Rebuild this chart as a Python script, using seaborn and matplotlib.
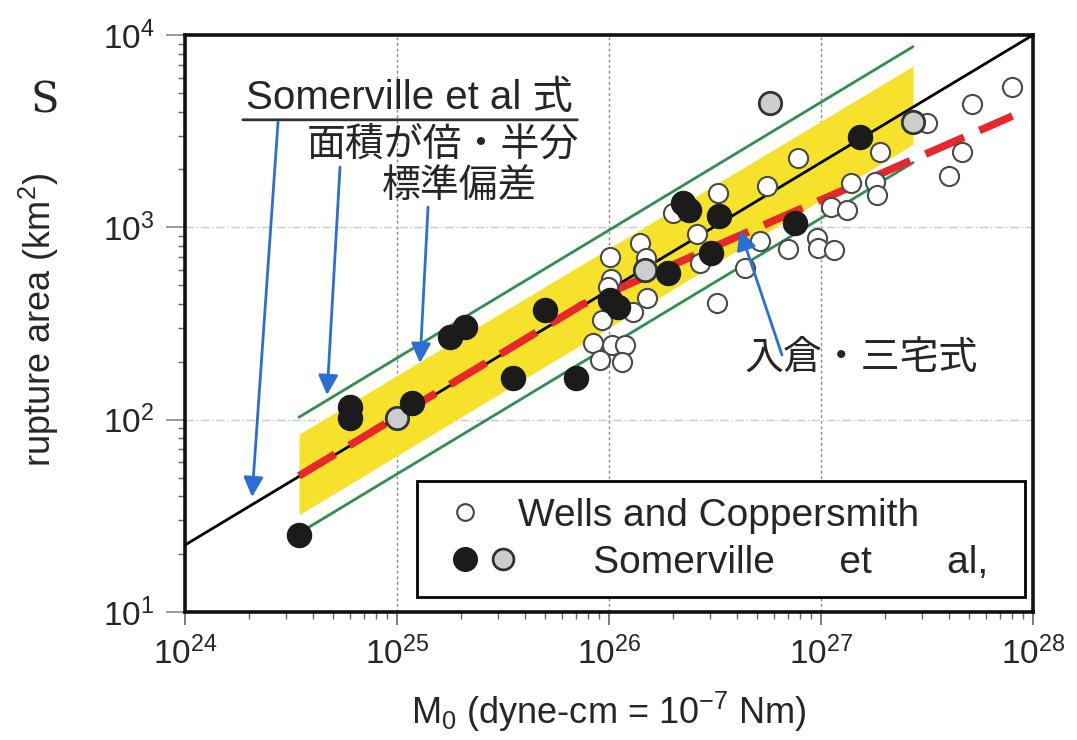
import matplotlib
matplotlib.use("Agg")
import matplotlib.pyplot as plt
import seaborn as sns
from matplotlib.lines import Line2D
from matplotlib.legend_handler import HandlerTuple

# --- data (M0 in dyne-cm, S in km^2) ---
# Somerville et al. relation (black line) end points
som_m0 = [1e24, 1e28]
som_s = [22.3, 10000]
# "area doubled / halved" lines (green)
band_m0 = [3.45e24, 2.72e27]
double_s = [103, 8700]
half_s = [25.7, 2170]
# standard deviation band (yellow)
sd_upper = [84, 6900]
sd_lower = [32, 2700]
# Irikura-Miyake relation (red dashed): start, knee, end
iri_m0 = [3.45e24, 7.5e25, 8.0e27]
iri_s = [51, 397, 3790]

# Wells and Coppersmith (open circles)
wc_m0 = [7.96e27, 5.15e27, 3.16e27, 1.90e27, 4.62e27, 4.02e27, 1.39e27, 1.80e27,
         1.84e27, 1.11e27, 1.33e27, 7.80e26, 5.56e26, 3.27e26, 2.00e26, 2.60e26,
         5.15e26, 6.98e26, 9.57e26, 9.68e26, 1.15e27, 4.39e26, 3.23e26, 1.40e26,
         1.01e26, 1.50e26, 2.69e26, 1.02e26, 9.9e25, 1.51e26, 1.30e26, 9.27e25,
         8.41e25, 1.03e26, 1.19e26, 9.08e25, 1.15e26]
wc_s = [5370, 4385, 3493, 2466, 2466, 1849, 1702, 1722,
        1472, 1277, 1230, 2296, 1641, 1510, 1189, 925,
        849, 773, 881, 781, 764, 615, 404, 829,
        702, 693, 653, 540, 490, 430, 363, 330,
        250, 245, 245, 204, 200]

# Somerville et al. data (filled black)
sb_m0 = [3.45e24, 6.0e24, 6.0e24, 1.18e25, 1.78e25, 2.09e25, 4.99e25, 3.52e25,
         6.98e25, 1.01e26, 1.10e26, 1.90e26, 2.23e26, 2.38e26, 3.30e26, 3.03e26,
         7.53e26, 1.53e27]
sb_s = [25.1, 116, 102, 122, 269, 303, 372, 165,
        165, 419, 385, 580, 1340, 1230, 1146, 736,
        1054, 2951]

# Somerville et al. data (filled gray)
sg_m0 = [1.0e25, 5.74e26, 2.72e27, 1.48e26]
sg_s = [102, 4436, 3532, 600]

# --- style ---
sns.set_style("ticks")
plt.rcParams["font.family"] = ["Liberation Sans", "Noto Sans CJK JP", "DejaVu Sans"]
plt.rcParams["mathtext.fontset"] = "custom"
plt.rcParams["mathtext.rm"] = "Liberation Sans"
plt.rcParams["mathtext.it"] = "Liberation Sans:italic"
plt.rcParams["mathtext.bf"] = "Liberation Sans:bold"

yellow = "#f6e22b"
green = "#2f8f4e"
red = "#e8262c"
blue = "#2b6fd4"

fig = plt.figure(figsize=(10.77, 7.40), dpi=100)
ax = fig.add_axes([0.1718, 0.1730, 0.7873, 0.7797])
ax.set_xscale("log")
ax.set_yscale("log")
ax.set_xlim(1e24, 1e28)
ax.set_ylim(1e1, 1e4)

ax.fill_between(band_m0, sd_lower, sd_upper, color=yellow, lw=0, zorder=1)
sns.lineplot(x=band_m0, y=double_s, color=green, lw=2, ax=ax, zorder=2)
sns.lineplot(x=band_m0, y=half_s, color=green, lw=2, ax=ax, zorder=2)
sns.lineplot(x=som_m0, y=som_s, color="black", lw=2, ax=ax, zorder=3)
sns.lineplot(x=iri_m0, y=iri_s, color=red, lw=5.5, ax=ax, zorder=4)
ax.lines[-1].set_dashes((5.5, 2.2))

sns.scatterplot(x=wc_m0, y=wc_s, s=190, color="white", edgecolor="#4a4a4a",
                linewidth=1.5, ax=ax, zorder=5, legend=False)
sns.scatterplot(x=sg_m0, y=sg_s, s=260, color="#cdcdcd", edgecolor="#333333",
                linewidth=2, ax=ax, zorder=6, legend=False)
sns.scatterplot(x=sb_m0, y=sb_s, s=300, color="#1b1b1b", edgecolor="#1b1b1b",
                linewidth=1, ax=ax, zorder=7, legend=False)

# grid
ax.xaxis.grid(True, which="major", color="#888888", ls=(0, (2, 2)), lw=1, zorder=0)
ax.yaxis.grid(True, which="major", color="#c8c8d0", ls=(0, (6, 2, 1, 2)), lw=1, zorder=0)

# frame and ticks
for sp in ax.spines.values():
    sp.set_linewidth(2.6)
    sp.set_color("#111111")
ax.tick_params(axis="x", which="major", length=9, width=1.2, color="#666666",
               labelsize=24, pad=9)
ax.tick_params(axis="y", which="major", length=14, width=1.2, color="#888888",
               labelsize=24, pad=8)
ax.tick_params(which="minor", length=5, width=1, color="#666666")

ax.set_xlabel("M$_0$ (dyne-cm = 10$^{-7}$ Nm)", fontsize=26)
ax.xaxis.set_label_coords(0.5, -0.135)
fig.text(0.036, 0.568, "rupture area (km$^2$)", rotation=90, fontsize=26,
         ha="center", va="center")
ax.text(-0.165, 0.887, "S", transform=ax.transAxes, fontsize=30,
        family=["DejaVu Serif"], fontstyle="normal", ha="center", va="center")

# annotations
jp = ["Liberation Sans", "Noto Sans CJK JP"]
ax.text(0.2642, 0.891, "Somerville et al 式", transform=ax.transAxes, fontsize=29,
        family=jp, ha="center", va="center", zorder=10)
ax.annotate("", xy=(0.0649, 0.853), xytext=(0.466, 0.853), xycoords="axes fraction",
            arrowprops=dict(arrowstyle="-", lw=2, color="#333333"))
ax.text(0.304, 0.809, "面積が倍・半分", transform=ax.transAxes, fontsize=28,
        family=jp, ha="center", va="center")
ax.text(0.3243, 0.737, "標準偏差", transform=ax.transAxes, fontsize=28,
        family=jp, ha="center", va="center")
ax.text(0.797, 0.440, "入倉・三宅式", transform=ax.transAxes, fontsize=28,
        family=jp, ha="center", va="center")

arrows = [((0.1097, 0.8492), (0.0790, 0.1993)),
          ((0.1828, 0.7712), (0.1675, 0.3761)),
          ((0.2866, 0.7019), (0.2771, 0.4315)),
          ((0.7040, 0.4454), (0.6545, 0.6620))]
for start, tip in arrows:
    ax.annotate("", xy=tip, xytext=start, xycoords="axes fraction",
                arrowprops=dict(arrowstyle="-|>", color=blue, lw=2,
                                mutation_scale=30, shrinkA=0, shrinkB=0),
                zorder=9)

# legend
h_white = Line2D([], [], ls="none", marker="o", ms=12, mfc="white", mec="#444444", mew=1.5)
h_black = Line2D([], [], ls="none", marker="o", ms=17, mfc="#1b1b1b", mec="#1b1b1b")
h_gray = Line2D([], [], ls="none", marker="o", ms=15, mfc="#cdcdcd", mec="#333333", mew=2)
h_blank = Line2D([], [], ls="none")
leg = ax.legend([(h_white, h_blank), (h_black, h_gray)],
                ["Wells and Coppersmith", "       Somerville      et       al,"],
                handler_map={tuple: HandlerTuple(ndivide=None, pad=-0.66)},
                loc="lower left", bbox_to_anchor=(0.2736, 0.026, 0.717, 0.22),
                mode="expand", borderaxespad=0, frameon=True, fancybox=False,
                edgecolor="black", framealpha=1, fontsize=28, handlelength=2.62,
                handletextpad=-0.45, borderpad=0.42, labelspacing=0.28)
leg.get_frame().set_linewidth(2)
leg.set_zorder(11)

fig.savefig("out.png", dpi=100)
